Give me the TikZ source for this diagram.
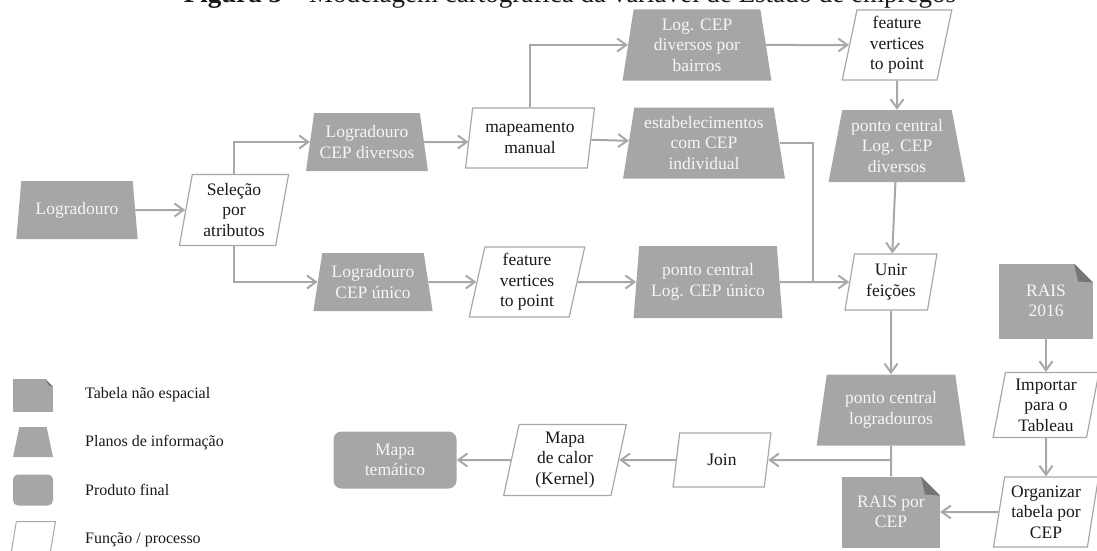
\documentclass[tikz,border=0pt]{standalone}
\usepackage{fontspec}
\setmainfont{Liberation Serif}
\usetikzlibrary{shapes.geometric,arrows.meta}
\definecolor{boxgray}{RGB}{166,166,166}
\definecolor{linegray}{RGB}{168,168,168}
\definecolor{foldgray}{RGB}{118,118,118}
\definecolor{txtlight}{RGB}{246,246,246}
\definecolor{txtdark}{RGB}{25,25,25}
\newcommand\bxfont{\fontsize{17.5}{20.5}\selectfont}
\newcommand\lgfont{\fontsize{16}{19}\selectfont}
\newcommand\ttlfont{\fontsize{27}{29}\selectfont}
\tikzset{
  plan/.style={trapezium, trapezium left angle=#1, trapezium right angle=#1,
    trapezium stretches=true, fill=boxgray, text=txtlight, align=center,
    inner sep=1pt, font=\bxfont},
  plan/.default=79,
  func/.style={trapezium, trapezium left angle=80, trapezium right angle=100,
    trapezium stretches=true, draw=linegray, line width=1.2pt, fill=white,
    text=txtdark, align=center, inner sep=1pt, font=\bxfont},
  docbox/.style={rectangle, fill=boxgray, text=txtlight, align=center,
    inner sep=1pt, font=\bxfont,
    path picture={
      \fill[white] ([xshift=-#1]path picture bounding box.north east) --
        (path picture bounding box.north east) --
        ([yshift=-#1]path picture bounding box.north east) -- cycle;
      \fill[foldgray] ([xshift=-#1]path picture bounding box.north east) --
        ([yshift=-#1]path picture bounding box.north east) --
        ([xshift=-#1+4pt,yshift=-#1+1pt]path picture bounding box.north east) -- cycle;
    }},
  final/.style={rectangle, rounded corners=8pt, fill=boxgray, text=txtlight,
    align=center, inner sep=1pt, font=\bxfont},
  conn/.style={draw=linegray, line width=2pt,
    -{Straight Barb[length=9pt,width=13pt]}},
  plainline/.style={draw=linegray, line width=2pt},
  legtext/.style={anchor=west, inner sep=0pt, font=\lgfont, text=txtdark},
}
\begin{document}
\begin{tikzpicture}[x=1pt,y=-1pt]
\useasboundingbox (0,0) rectangle (1097,551);
% title (cut off at the top, as in the reference)
\begin{scope}
\clip (0,0) rectangle (1097,551);
\node[anchor=base, inner sep=0pt, font=\ttlfont, text=txtdark] (title) at (570,3)
  {\textbf{Figura 3} – Modelagem cartográfica da variável de Estado de empregos};
\end{scope}

% nodes
\node[plan=78, minimum width=122pt, minimum height=58pt] (log) at (77,210) {Logradouro};
\node[func, minimum width=110pt, minimum height=71pt] (sel) at (234,210) {Seleção\\por\\atributos};
\node[plan=78, minimum width=122pt, minimum height=58pt] (lcd) at (367,142) {Logradouro\\CEP diversos};
\node[plan=78, minimum width=120pt, minimum height=58pt] (lcu) at (373,282) {Logradouro\\CEP único};
\node[func, minimum width=129pt, minimum height=60pt] (map) at (530,138) {mapeamento\\manual};
\node[plan=82, minimum width=149pt, minimum height=71pt] (bai) at (697,45) {Log. CEP\\diversos por\\bairros};
\node[plan=80, minimum width=162pt, minimum height=71pt] (est) at (704,143) {estabelecimentos\\com CEP\\individual};
\node[func, minimum width=110pt, minimum height=70pt] (fva) at (897,45) {feature\\vertices\\to point};
\node[plan=78, minimum width=137pt, minimum height=72pt] (pcd) at (897,146) {ponto central\\Log. CEP\\diversos};
\node[func, minimum width=116pt, minimum height=70pt] (fvb) at (527,282) {feature\\vertices\\to point};
\node[plan=83, minimum width=149pt, minimum height=72pt] (pcu) at (708,282) {ponto central\\Log. CEP único};
\node[func, minimum width=92pt, minimum height=56pt] (uni) at (891,282) {Unir\\feições};
\node[docbox=19pt, minimum width=94pt, minimum height=75pt] (rais) at (1046,301) {RAIS\\2016};
\node[func, minimum width=106pt, minimum height=65pt] (imp) at (1046,405) {Importar\\para o\\Tableau};
\node[func, minimum width=106pt, minimum height=70pt] (org) at (1046,512) {Organizar\\tabela por\\CEP};
\node[docbox=19pt, minimum width=98pt, minimum height=71pt] (rpc) at (891,512) {RAIS por\\CEP};
\node[plan=79, minimum width=149pt, minimum height=71pt] (pcl) at (891,410) {ponto central\\logradouros};
\node[func, minimum width=98pt, minimum height=54pt] (join) at (722,460) {Join};
\node[func, minimum width=123pt, minimum height=71pt] (mdc) at (565,460) {Mapa\\de calor\\(Kernel)};
\node[final, minimum width=123pt, minimum height=57pt] (mt) at (395,460) {Mapa\\temático};

\coordinate (j1) at (813,282);
\coordinate (j2) at (891,460);

% connectors
\draw[conn] (log) -- (sel);
\draw[conn] (sel.north) |- (lcd);
\draw[conn] (sel.south) |- (lcu);
\draw[conn] (lcd) -- (lcd -| map.west);
\draw[conn] (map) -- (est);
\draw[conn] (map.north) |- (bai);
\draw[conn] (bai) -- (fva);
\draw[conn] (fva) -- (pcd);
\draw[conn] (pcd) -- (uni);
\draw[plainline] (est.east) -| (j1);
\draw[conn] (lcu) -- (fvb);
\draw[conn] (fvb) -- (pcu);
\draw[conn] (pcu) -- (uni);
\draw[conn] (uni) -- (pcl);
\draw[plainline] (pcl) -- (rpc);
\draw[conn] (j2) -- (join);
\draw[conn] (join) -- (mdc);
\draw[conn] (mdc) -- (mt);
\draw[conn] (rais) -- (imp);
\draw[conn] (imp) -- (org);
\draw[conn] (org) -- (rpc);

% legend
\node[docbox=8pt, minimum width=40pt, minimum height=33pt] (lg1) at (33,395) {};
\node[plan=77, minimum width=40pt, minimum height=30pt] (lg2) at (33,442) {};
\node[final, rounded corners=5pt, minimum width=40pt, minimum height=31pt] (lg3) at (33,490) {};
\node[func, minimum width=45pt, minimum height=35pt, line width=1pt] (lg4) at (33,539) {};
\node[legtext] (lt1) at (85,395) {Tabela não espacial};
\node[legtext] (lt2) at (85,443) {Planos de informação};
\node[legtext] (lt3) at (85,490) {Produto final};
\node[legtext] (lt4) at (85,540) {Função / processo};
\end{tikzpicture}
\end{document}
